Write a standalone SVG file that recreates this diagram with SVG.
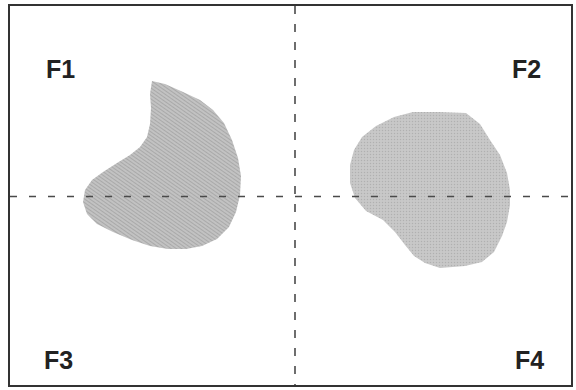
<svg xmlns="http://www.w3.org/2000/svg" width="576" height="390" viewBox="0 0 576 390">
<style>
.blob{stroke:none}
.lbl{font-family:"Liberation Sans",Arial,sans-serif;font-weight:bold;font-size:25px;fill:#222}
.dash{stroke:#4a4a4a;stroke-width:1.6;fill:none}
</style>
<defs>
<pattern id="hatch" width="3" height="3" patternUnits="userSpaceOnUse" patternTransform="rotate(35)">
<rect width="3" height="3" fill="#c2c2c2"/>
<line x1="0" y1="0.5" x2="3" y2="0.5" stroke="#a9a9a9" stroke-width="1"/>
</pattern>
<pattern id="dots" width="3" height="3" patternUnits="userSpaceOnUse">
<rect width="3" height="3" fill="#c8c8c8"/>
<circle cx="1.5" cy="1.5" r="0.7" fill="#b0b0b0"/>
</pattern>
</defs>
<rect x="0" y="0" width="576" height="390" fill="#ffffff"/>
<g id="blob-left">
<path class="blob" fill="url(#hatch)" d="M152,81 L165,84 L183,92 L200,100 L213,110 L224,123 L232,140 L238,158 L241,176 L240,195 L236,212 L229,227 L217,239 L202,246 L186,249 L168,249 L150,246 L132,240 L113,232 L97,224 L87,214 L83,202 L85,190 L92,180 L103,172 L117,163 L130,155 L140,147 L147,137 L150,124 L151,108 L150,94 Z"/>
</g>
<g id="blob-right">
<path class="blob" fill="url(#dots)" d="M413,112 L440,112 L466,113 L480,124 L490,140 L500,155 L507,173 L510,190 L510,205 L507,222 L502,236 L494,252 L482,262 L465,266 L440,268 L425,263 L414,256 L405,245 L395,232 L383,220 L366,211 L355,198 L350,183 L350,165 L354,150 L362,137 L376,126 L394,117 Z"/>
</g>
<g id="connectors">
<line class="dash" x1="10" y1="196.5" x2="571" y2="196.5" stroke-dasharray="7 12"/>
<line class="dash" x1="295" y1="6" x2="295" y2="385" stroke-dasharray="8 10"/>
</g>
<g id="frame">
<rect x="9" y="5" width="563" height="381" fill="none" stroke="#333" stroke-width="2"/>
</g>
<g id="F1"><text class="lbl" x="46" y="78">F1</text></g>
<g id="F2"><text class="lbl" x="512" y="78">F2</text></g>
<g id="F3"><text class="lbl" x="44" y="369">F3</text></g>
<g id="F4"><text class="lbl" x="515" y="369">F4</text></g>
</svg>
